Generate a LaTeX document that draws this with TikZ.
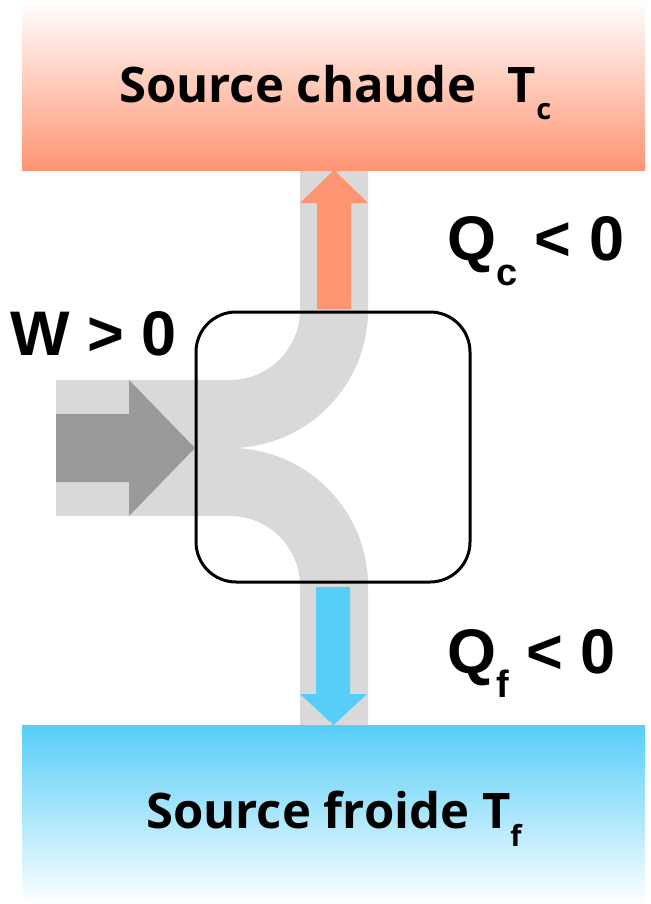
\documentclass[tikz,border=0pt]{standalone}
\usepackage{fontspec}
\setmainfont{Open Sans}
\newfontfamily\labfont{Liberation Sans}
\definecolor{hot}{RGB}{255,148,115}
\definecolor{cold}{RGB}{86,206,248}
\definecolor{band}{RGB}{217,217,217}
\definecolor{warr}{RGB}{153,153,153}
\tikzset{
  srcbox/.style={inner sep=0pt, minimum width=623pt, font=\bfseries\fontsize{49}{49}\selectfont},
  qlabel/.style={inner sep=0pt, anchor=base west, font=\labfont\bfseries\fontsize{63}{63}\selectfont},
  machine/.style={draw=black, line width=3pt, rounded corners=40pt, minimum width=274pt, minimum height=270pt, inner sep=0pt},
}
\begin{document}
\begin{tikzpicture}[x=1pt,y=-1pt]
\useasboundingbox (0,0) rectangle (650,904);
% gray band
\fill[band] (300,170) -- (368,170) -- (368,310)
  arc[start angle=0,end angle=90,radius=138]
  arc[start angle=-90,end angle=0,radius=138]
  -- (368,725) -- (300,725) -- (300,586)
  arc[start angle=0,end angle=-90,radius=70]
  -- (56,516) -- (56,380) -- (230,380)
  arc[start angle=90,end angle=0,radius=70] -- cycle;
% source boxes
\node[srcbox, minimum height=170pt, top color=white, bottom color=hot, anchor=north west] (hotsrc) at (22,0) {};
\node[srcbox, inner sep=0pt, minimum width=0pt, anchor=base west] (hottxt) at (119,103) {Source chaude\hspace{0.65em}T\raisebox{-17pt}{\fontsize{29}{29}\selectfont c}};
\node[srcbox, minimum height=179pt, top color=cold, bottom color=white, anchor=north west] (coldsrc) at (22,725) {};
\node[srcbox, inner sep=0pt, minimum width=0pt, anchor=base west] (coldtxt) at (146,828) {Source froide T\raisebox{-18pt}{\fontsize{29}{29}\selectfont f}};
% machine
\node[machine] (engine) at (333,447) {};
% arrows
\fill[hot] (317,309) -- (317,203) -- (300,203) -- (334,170) -- (368,203) -- (351,203) -- (351,309) -- cycle;
\fill[cold] (316,587) -- (350,587) -- (350,694) -- (367,694) -- (333.5,725) -- (300,694) -- (316,694) -- cycle;
\fill[warr] (56,414) -- (129,414) -- (129,380) -- (195,448) -- (129,516) -- (129,482) -- (56,482) -- cycle;
% labels
\node[qlabel] (qc) at (447,260) {Q\raisebox{-25pt}{\fontsize{38}{38}\selectfont c} {<} 0};
\node[qlabel] (w) at (10,355) {W {>} 0};
\node[qlabel] (qf) at (447,673) {Q\raisebox{-24pt}{\fontsize{38}{38}\selectfont f} {<} 0};
\end{tikzpicture}
\end{document}
